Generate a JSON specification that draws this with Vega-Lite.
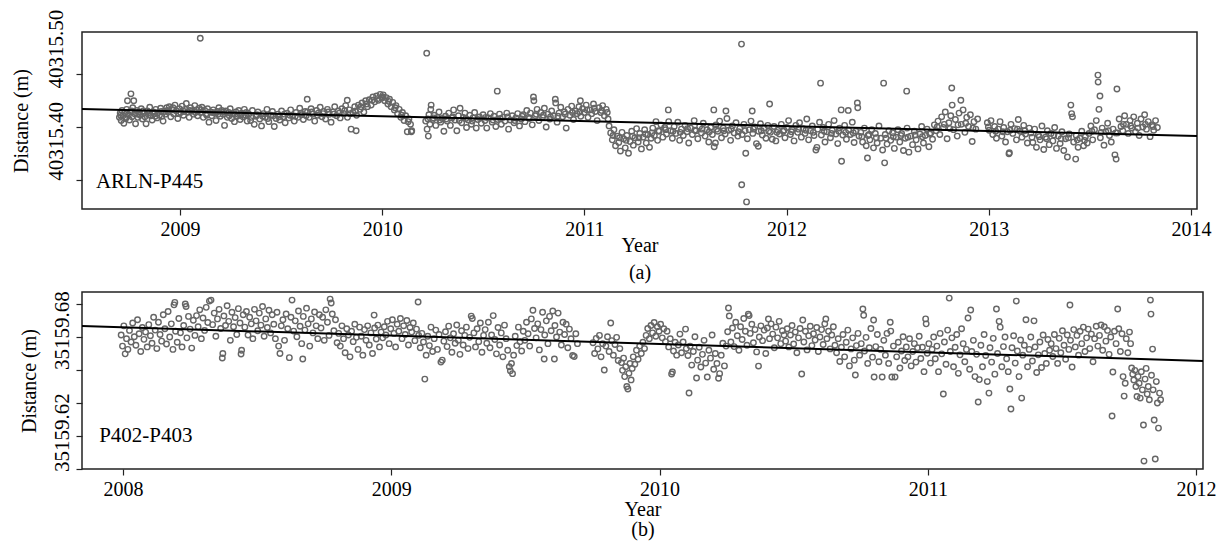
{
"$schema":"https://vega.github.io/schema/vega-lite/v6.json",
"background":"white",
"padding":{"left":10,"top":8,"right":4,"bottom":2},
"align":"none",
"spacing":6,
"config":{"font":"Liberation Serif","view":{"stroke":"#222","strokeWidth":1.5},
"axis":{"domain":false,"grid":false,"tickColor":"#222","tickWidth":1.2,"labelFont":"Liberation Serif","labelFontSize":20,"labelColor":"#000","titleFont":"Liberation Serif","titleFontSize":20,"titleFontWeight":"normal","titleColor":"#000","labelOverlap":false,"labelFlush":false}},
"datasets":{
"a":[
{"t":2008.700,"d":40315.418},{"t":2008.704,"d":40315.426},{"t":2008.709,"d":40315.412},{"t":2008.713,"d":40315.431},{"t":2008.718,"d":40315.421},{"t":2008.722,"d":40315.407},{"t":2008.727,"d":40315.427},{"t":2008.731,"d":40315.416},{"t":2008.736,"d":40315.433},{"t":2008.740,"d":40315.449},{"t":2008.745,"d":40315.423},{"t":2008.750,"d":40315.413},{"t":2008.754,"d":40315.429},{"t":2008.757,"d":40315.462},{"t":2008.762,"d":40315.419},{"t":2008.766,"d":40315.436},{"t":2008.771,"d":40315.449},{"t":2008.775,"d":40315.425},{"t":2008.780,"d":40315.406},{"t":2008.786,"d":40315.431},{"t":2008.791,"d":40315.418},{"t":2008.797,"d":40315.428},{"t":2008.803,"d":40315.422},{"t":2008.808,"d":40315.434},{"t":2008.814,"d":40315.415},{"t":2008.820,"d":40315.426},{"t":2008.826,"d":40315.419},{"t":2008.832,"d":40315.406},{"t":2008.838,"d":40315.430},{"t":2008.844,"d":40315.423},{"t":2008.850,"d":40315.437},{"t":2008.856,"d":40315.421},{"t":2008.862,"d":40315.413},{"t":2008.868,"d":40315.428},{"t":2008.874,"d":40315.425},{"t":2008.880,"d":40315.433},{"t":2008.886,"d":40315.417},{"t":2008.892,"d":40315.427},{"t":2008.898,"d":40315.422},{"t":2008.904,"d":40315.435},{"t":2008.910,"d":40315.420},{"t":2008.916,"d":40315.411},{"t":2008.922,"d":40315.429},{"t":2008.928,"d":40315.424},{"t":2008.934,"d":40315.436},
{"t":2008.940,"d":40315.428},{"t":2008.947,"d":40315.438},{"t":2008.954,"d":40315.419},{"t":2008.961,"d":40315.432},{"t":2008.968,"d":40315.425},{"t":2008.975,"d":40315.441},{"t":2008.982,"d":40315.430},{"t":2008.989,"d":40315.416},{"t":2008.996,"d":40315.434},{"t":2009.003,"d":40315.427},{"t":2009.010,"d":40315.439},{"t":2009.017,"d":40315.422},{"t":2009.024,"d":40315.433},{"t":2009.031,"d":40315.444},{"t":2009.038,"d":40315.428},{"t":2009.045,"d":40315.418},{"t":2009.052,"d":40315.436},{"t":2009.059,"d":40315.430},{"t":2009.066,"d":40315.424},{"t":2009.073,"d":40315.440},{"t":2009.080,"d":40315.432},{"t":2009.087,"d":40315.421},{"t":2009.094,"d":40315.435},{"t":2009.100,"d":40315.566},{"t":2009.101,"d":40315.427},{"t":2009.108,"d":40315.437},{"t":2009.115,"d":40315.418},{"t":2009.122,"d":40315.431},{"t":2009.129,"d":40315.425},{"t":2009.136,"d":40315.434},{"t":2009.143,"d":40315.409},{"t":2009.150,"d":40315.428},{"t":2009.157,"d":40315.421},{"t":2009.164,"d":40315.432},{"t":2009.171,"d":40315.426},{"t":2009.178,"d":40315.412},{"t":2009.185,"d":40315.429},{"t":2009.192,"d":40315.436},{"t":2009.199,"d":40315.420},{"t":2009.206,"d":40315.431},{"t":2009.213,"d":40315.424},{"t":2009.220,"d":40315.403},{"t":2009.227,"d":40315.430},{"t":2009.234,"d":40315.418},{"t":2009.241,"d":40315.427},{"t":2009.248,"d":40315.434},{"t":2009.255,"d":40315.416},{"t":2009.262,"d":40315.425},{"t":2009.269,"d":40315.410},{"t":2009.276,"d":40315.428},{"t":2009.283,"d":40315.420},{"t":2009.290,"d":40315.431},{"t":2009.297,"d":40315.414},{"t":2009.304,"d":40315.426},{"t":2009.311,"d":40315.419},{"t":2009.318,"d":40315.433},{"t":2009.325,"d":40315.422},{"t":2009.332,"d":40315.411},
{"t":2009.340,"d":40315.424},{"t":2009.349,"d":40315.412},{"t":2009.358,"d":40315.431},{"t":2009.367,"d":40315.405},{"t":2009.376,"d":40315.420},{"t":2009.385,"d":40315.428},{"t":2009.394,"d":40315.415},{"t":2009.403,"d":40315.402},{"t":2009.412,"d":40315.425},{"t":2009.421,"d":40315.418},{"t":2009.430,"d":40315.433},{"t":2009.439,"d":40315.410},{"t":2009.448,"d":40315.422},{"t":2009.457,"d":40315.429},{"t":2009.466,"d":40315.401},{"t":2009.475,"d":40315.416},{"t":2009.484,"d":40315.424},{"t":2009.493,"d":40315.413},{"t":2009.502,"d":40315.430},{"t":2009.511,"d":40315.419},{"t":2009.520,"d":40315.408},{"t":2009.529,"d":40315.426},{"t":2009.538,"d":40315.417},{"t":2009.547,"d":40315.432},{"t":2009.556,"d":40315.421},{"t":2009.565,"d":40315.411},{"t":2009.574,"d":40315.427},{"t":2009.583,"d":40315.418},{"t":2009.592,"d":40315.435},{"t":2009.601,"d":40315.423},{"t":2009.610,"d":40315.414},{"t":2009.619,"d":40315.429},
{"t":2009.629,"d":40315.452},{"t":2009.630,"d":40315.428},{"t":2009.639,"d":40315.418},{"t":2009.648,"d":40315.434},{"t":2009.657,"d":40315.424},{"t":2009.666,"d":40315.411},{"t":2009.675,"d":40315.431},{"t":2009.684,"d":40315.426},{"t":2009.693,"d":40315.437},{"t":2009.702,"d":40315.419},{"t":2009.711,"d":40315.429},{"t":2009.720,"d":40315.415},{"t":2009.729,"d":40315.433},{"t":2009.738,"d":40315.424},{"t":2009.747,"d":40315.409},{"t":2009.756,"d":40315.428},{"t":2009.765,"d":40315.438},{"t":2009.774,"d":40315.421},{"t":2009.783,"d":40315.430},{"t":2009.792,"d":40315.417},{"t":2009.801,"d":40315.434},{"t":2009.810,"d":40315.425},{"t":2009.819,"d":40315.440},{"t":2009.827,"d":40315.450},{"t":2009.828,"d":40315.418},{"t":2009.837,"d":40315.432},{"t":2009.846,"d":40315.396},{"t":2009.855,"d":40315.427},{"t":2009.864,"d":40315.438},{"t":2009.871,"d":40315.393},{"t":2009.873,"d":40315.422},{"t":2009.882,"d":40315.441},{"t":2009.891,"d":40315.433},{"t":2009.900,"d":40315.445},{"t":2009.909,"d":40315.428},{"t":2009.918,"d":40315.449},{"t":2009.927,"d":40315.438},
{"t":2009.936,"d":40315.451},{"t":2009.945,"d":40315.441},{"t":2009.954,"d":40315.456},{"t":2009.963,"d":40315.447},{"t":2009.972,"d":40315.458},{"t":2009.981,"d":40315.450},{"t":2009.990,"d":40315.461},{"t":2009.999,"d":40315.454},{"t":2010.005,"d":40315.460},{"t":2010.012,"d":40315.449},{"t":2010.020,"d":40315.455},{"t":2010.028,"d":40315.443},{"t":2010.036,"d":40315.452},{"t":2010.044,"d":40315.438},{"t":2010.052,"d":40315.446},{"t":2010.060,"d":40315.432},{"t":2010.068,"d":40315.440},{"t":2010.076,"d":40315.425},{"t":2010.084,"d":40315.433},{"t":2010.092,"d":40315.418},{"t":2010.100,"d":40315.427},{"t":2010.108,"d":40315.412},{"t":2010.116,"d":40315.421},{"t":2010.124,"d":40315.391},{"t":2010.132,"d":40315.415},{"t":2010.140,"d":40315.405},{"t":2010.144,"d":40315.391},{"t":2010.146,"d":40315.393},
{"t":2010.215,"d":40315.411},{"t":2010.220,"d":40315.538},{"t":2010.222,"d":40315.396},{"t":2010.228,"d":40315.383},{"t":2010.231,"d":40315.423},{"t":2010.236,"d":40315.405},{"t":2010.240,"d":40315.433},{"t":2010.242,"d":40315.441},{"t":2010.249,"d":40315.414},{"t":2010.257,"d":40315.422},{"t":2010.265,"d":40315.403},{"t":2010.273,"d":40315.418},{"t":2010.281,"d":40315.428},{"t":2010.289,"d":40315.409},{"t":2010.297,"d":40315.416},{"t":2010.305,"d":40315.392},{"t":2010.313,"d":40315.420},{"t":2010.321,"d":40315.411},{"t":2010.329,"d":40315.426},{"t":2010.337,"d":40315.403},{"t":2010.345,"d":40315.417},{"t":2010.353,"d":40315.432},{"t":2010.361,"d":40315.413},{"t":2010.369,"d":40315.393},{"t":2010.377,"d":40315.421},{"t":2010.385,"d":40315.435},{"t":2010.393,"d":40315.408},{"t":2010.401,"d":40315.418},{"t":2010.409,"d":40315.426},{"t":2010.417,"d":40315.399},{"t":2010.425,"d":40315.413},{"t":2010.433,"d":40315.422},{"t":2010.441,"d":40315.405},{"t":2010.449,"d":40315.417},{"t":2010.457,"d":40315.427},{"t":2010.465,"d":40315.398},{"t":2010.473,"d":40315.414},
{"t":2010.481,"d":40315.419},{"t":2010.490,"d":40315.407},{"t":2010.499,"d":40315.423},{"t":2010.508,"d":40315.412},{"t":2010.517,"d":40315.398},{"t":2010.526,"d":40315.417},{"t":2010.535,"d":40315.425},{"t":2010.544,"d":40315.409},{"t":2010.553,"d":40315.420},{"t":2010.562,"d":40315.401},{"t":2010.569,"d":40315.467},{"t":2010.571,"d":40315.414},{"t":2010.580,"d":40315.424},{"t":2010.589,"d":40315.405},{"t":2010.598,"d":40315.418},{"t":2010.607,"d":40315.411},{"t":2010.616,"d":40315.426},{"t":2010.625,"d":40315.396},{"t":2010.634,"d":40315.413},{"t":2010.643,"d":40315.421},{"t":2010.652,"d":40315.408},{"t":2010.661,"d":40315.417},{"t":2010.670,"d":40315.425},{"t":2010.679,"d":40315.402},{"t":2010.688,"d":40315.415},
{"t":2010.697,"d":40315.423},{"t":2010.706,"d":40315.410},{"t":2010.715,"d":40315.431},{"t":2010.724,"d":40315.418},{"t":2010.733,"d":40315.426},{"t":2010.742,"d":40315.404},{"t":2010.748,"d":40315.456},{"t":2010.750,"d":40315.449},{"t":2010.757,"d":40315.421},{"t":2010.766,"d":40315.433},{"t":2010.775,"d":40315.412},{"t":2010.784,"d":40315.427},{"t":2010.793,"d":40315.418},{"t":2010.802,"d":40315.435},{"t":2010.811,"d":40315.400},{"t":2010.820,"d":40315.424},{"t":2010.829,"d":40315.415},{"t":2010.838,"d":40315.430},{"t":2010.847,"d":40315.421},{"t":2010.856,"d":40315.452},{"t":2010.858,"d":40315.445},{"t":2010.865,"d":40315.409},{"t":2010.874,"d":40315.426},{"t":2010.883,"d":40315.437},{"t":2010.892,"d":40315.419},{"t":2010.901,"d":40315.428},{"t":2010.910,"d":40315.398},{"t":2010.919,"d":40315.433},{"t":2010.928,"d":40315.422},{"t":2010.937,"d":40315.439},{"t":2010.946,"d":40315.414},{"t":2010.955,"d":40315.430},
{"t":2010.964,"d":40315.425},{"t":2010.973,"d":40315.438},{"t":2010.980,"d":40315.449},{"t":2010.982,"d":40315.420},{"t":2010.991,"d":40315.434},{"t":2011.000,"d":40315.427},{"t":2011.009,"d":40315.441},{"t":2011.018,"d":40315.418},{"t":2011.027,"d":40315.432},{"t":2011.036,"d":40315.425},{"t":2011.045,"d":40315.443},{"t":2011.054,"d":40315.429},{"t":2011.063,"d":40315.412},{"t":2011.072,"d":40315.436},{"t":2011.081,"d":40315.427},{"t":2011.090,"d":40315.440},{"t":2011.099,"d":40315.421},{"t":2011.108,"d":40315.433},{"t":2011.117,"d":40315.415},
{"t":2011.122,"d":40315.402},{"t":2011.130,"d":40315.389},{"t":2011.138,"d":40315.376},{"t":2011.146,"d":40315.395},{"t":2011.154,"d":40315.365},{"t":2011.162,"d":40315.383},{"t":2011.170,"d":40315.371},{"t":2011.178,"d":40315.355},{"t":2011.186,"d":40315.390},{"t":2011.194,"d":40315.378},{"t":2011.202,"d":40315.361},{"t":2011.210,"d":40315.384},{"t":2011.218,"d":40315.351},{"t":2011.226,"d":40315.373},{"t":2011.234,"d":40315.392},{"t":2011.242,"d":40315.366},{"t":2011.250,"d":40315.380},{"t":2011.258,"d":40315.397},{"t":2011.266,"d":40315.372},{"t":2011.274,"d":40315.388},{"t":2011.282,"d":40315.359},{"t":2011.290,"d":40315.381},{"t":2011.298,"d":40315.395},{"t":2011.306,"d":40315.370},{"t":2011.314,"d":40315.386},{"t":2011.322,"d":40315.362},{"t":2011.330,"d":40315.379},{"t":2011.338,"d":40315.398},{"t":2011.346,"d":40315.384},{"t":2011.354,"d":40315.410},{"t":2011.362,"d":40315.375},
{"t":2011.370,"d":40315.392},{"t":2011.379,"d":40315.404},{"t":2011.388,"d":40315.381},{"t":2011.397,"d":40315.399},{"t":2011.406,"d":40315.387},{"t":2011.415,"d":40315.432},{"t":2011.417,"d":40315.410},{"t":2011.426,"d":40315.393},{"t":2011.435,"d":40315.379},{"t":2011.444,"d":40315.401},{"t":2011.453,"d":40315.388},{"t":2011.462,"d":40315.409},{"t":2011.471,"d":40315.375},{"t":2011.480,"d":40315.396},{"t":2011.489,"d":40315.384},{"t":2011.498,"d":40315.403},{"t":2011.507,"d":40315.391},{"t":2011.516,"d":40315.370},{"t":2011.525,"d":40315.398},{"t":2011.534,"d":40315.386},{"t":2011.543,"d":40315.412},{"t":2011.552,"d":40315.393},{"t":2011.561,"d":40315.378},{"t":2011.570,"d":40315.401},{"t":2011.579,"d":40315.389},{"t":2011.588,"d":40315.407},{"t":2011.597,"d":40315.383},{"t":2011.606,"d":40315.395},{"t":2011.615,"d":40315.372},{"t":2011.624,"d":40315.399},{"t":2011.633,"d":40315.386},{"t":2011.640,"d":40315.432},{"t":2011.642,"d":40315.363},{"t":2011.648,"d":40315.370},{"t":2011.651,"d":40315.404},{"t":2011.660,"d":40315.392},{"t":2011.669,"d":40315.411},{"t":2011.678,"d":40315.380},{"t":2011.687,"d":40315.398},{"t":2011.696,"d":40315.387},{"t":2011.700,"d":40315.430},{"t":2011.705,"d":40315.416},{"t":2011.714,"d":40315.394},{"t":2011.723,"d":40315.375},{"t":2011.732,"d":40315.402},{"t":2011.741,"d":40315.389},{"t":2011.750,"d":40315.408},{"t":2011.759,"d":40315.383},{"t":2011.768,"d":40315.397},{"t":2011.777,"d":40315.555},{"t":2011.778,"d":40315.292},{"t":2011.780,"d":40315.386},{"t":2011.789,"d":40315.405},{"t":2011.798,"d":40315.351},{"t":2011.802,"d":40315.260},{"t":2011.806,"d":40315.378},{"t":2011.815,"d":40315.395},{"t":2011.824,"d":40315.411},{"t":2011.830,"d":40315.430},{"t":2011.833,"d":40315.388},{"t":2011.842,"d":40315.400},{"t":2011.851,"d":40315.369},{"t":2011.860,"d":40315.364},{"t":2011.862,"d":40315.392},{"t":2011.871,"d":40315.406},{"t":2011.880,"d":40315.385},{"t":2011.889,"d":40315.398},{"t":2011.898,"d":40315.379},{"t":2011.907,"d":40315.403},{"t":2011.916,"d":40315.443},{"t":2011.920,"d":40315.390},{"t":2011.929,"d":40315.377},{"t":2011.938,"d":40315.401},{"t":2011.947,"d":40315.374},{"t":2011.956,"d":40315.394},
{"t":2011.965,"d":40315.387},{"t":2011.974,"d":40315.405},{"t":2011.983,"d":40315.392},{"t":2011.992,"d":40315.380},{"t":2012.001,"d":40315.399},{"t":2012.010,"d":40315.412},{"t":2012.019,"d":40315.386},{"t":2012.028,"d":40315.395},{"t":2012.037,"d":40315.374},{"t":2012.046,"d":40315.403},{"t":2012.055,"d":40315.390},{"t":2012.064,"d":40315.408},{"t":2012.073,"d":40315.381},{"t":2012.082,"d":40315.397},{"t":2012.091,"d":40315.388},{"t":2012.100,"d":40315.415},{"t":2012.109,"d":40315.376},{"t":2012.118,"d":40315.393},{"t":2012.127,"d":40315.402},{"t":2012.136,"d":40315.384},{"t":2012.145,"d":40315.357},{"t":2012.150,"d":40315.362},{"t":2012.154,"d":40315.396},{"t":2012.163,"d":40315.409},{"t":2012.168,"d":40315.482},{"t":2012.172,"d":40315.385},{"t":2012.181,"d":40315.399},{"t":2012.190,"d":40315.372},{"t":2012.199,"d":40315.391},{"t":2012.208,"d":40315.405},{"t":2012.217,"d":40315.380},{"t":2012.226,"d":40315.394},{"t":2012.235,"d":40315.412},{"t":2012.244,"d":40315.387},{"t":2012.253,"d":40315.369},{"t":2012.262,"d":40315.398},{"t":2012.270,"d":40315.432},{"t":2012.272,"d":40315.336},{"t":2012.278,"d":40315.385},{"t":2012.287,"d":40315.403},{"t":2012.296,"d":40315.377},{"t":2012.305,"d":40315.431},{"t":2012.307,"d":40315.394},{"t":2012.316,"d":40315.386},{"t":2012.325,"d":40315.409},{"t":2012.334,"d":40315.371},{"t":2012.343,"d":40315.392},{"t":2012.350,"d":40315.445},{"t":2012.352,"d":40315.436},{"t":2012.358,"d":40315.383},
{"t":2012.367,"d":40315.390},{"t":2012.376,"d":40315.372},{"t":2012.385,"d":40315.398},{"t":2012.394,"d":40315.365},{"t":2012.400,"d":40315.342},{"t":2012.403,"d":40315.384},{"t":2012.412,"d":40315.376},{"t":2012.421,"d":40315.395},{"t":2012.430,"d":40315.361},{"t":2012.439,"d":40315.388},{"t":2012.448,"d":40315.370},{"t":2012.457,"d":40315.402},{"t":2012.466,"d":40315.379},{"t":2012.475,"d":40315.357},{"t":2012.480,"d":40315.482},{"t":2012.485,"d":40315.333},{"t":2012.488,"d":40315.386},{"t":2012.497,"d":40315.368},{"t":2012.506,"d":40315.393},{"t":2012.515,"d":40315.375},{"t":2012.524,"d":40315.389},{"t":2012.533,"d":40315.360},{"t":2012.542,"d":40315.381},
{"t":2012.551,"d":40315.395},{"t":2012.560,"d":40315.372},{"t":2012.569,"d":40315.388},{"t":2012.578,"d":40315.356},{"t":2012.587,"d":40315.379},{"t":2012.594,"d":40315.467},{"t":2012.596,"d":40315.398},{"t":2012.605,"d":40315.353},{"t":2012.614,"d":40315.383},{"t":2012.623,"d":40315.367},{"t":2012.632,"d":40315.392},{"t":2012.641,"d":40315.376},{"t":2012.650,"d":40315.359},{"t":2012.659,"d":40315.387},{"t":2012.668,"d":40315.401},{"t":2012.677,"d":40315.370},{"t":2012.686,"d":40315.384},{"t":2012.695,"d":40315.396},{"t":2012.704,"d":40315.363},{"t":2012.713,"d":40315.389},{"t":2012.722,"d":40315.377},{"t":2012.731,"d":40315.404},
{"t":2012.740,"d":40315.393},{"t":2012.749,"d":40315.411},{"t":2012.758,"d":40315.386},{"t":2012.767,"d":40315.419},{"t":2012.776,"d":40315.399},{"t":2012.785,"d":40315.428},{"t":2012.794,"d":40315.378},{"t":2012.803,"d":40315.408},{"t":2012.812,"d":40315.421},{"t":2012.817,"d":40315.473},{"t":2012.819,"d":40315.441},{"t":2012.826,"d":40315.395},{"t":2012.835,"d":40315.414},{"t":2012.844,"d":40315.383},{"t":2012.853,"d":40315.426},{"t":2012.862,"d":40315.450},{"t":2012.864,"d":40315.405},{"t":2012.873,"d":40315.432},{"t":2012.882,"d":40315.390},{"t":2012.891,"d":40315.418},{"t":2012.900,"d":40315.401},{"t":2012.909,"d":40315.423},{"t":2012.918,"d":40315.373},{"t":2012.927,"d":40315.410},{"t":2012.936,"d":40315.396},{"t":2012.945,"d":40315.415},
{"t":2012.993,"d":40315.408},{"t":2013.002,"d":40315.394},{"t":2013.011,"d":40315.412},{"t":2013.020,"d":40315.386},{"t":2013.029,"d":40315.401},{"t":2013.038,"d":40315.379},{"t":2013.047,"d":40315.396},{"t":2013.056,"d":40315.410},{"t":2013.065,"d":40315.383},{"t":2013.074,"d":40315.399},{"t":2013.083,"d":40315.372},{"t":2013.092,"d":40315.391},{"t":2013.100,"d":40315.350},{"t":2013.102,"d":40315.352},{"t":2013.110,"d":40315.405},{"t":2013.119,"d":40315.388},{"t":2013.128,"d":40315.397},{"t":2013.137,"d":40315.376},{"t":2013.146,"d":40315.414},{"t":2013.155,"d":40315.392},{"t":2013.164,"d":40315.381},{"t":2013.173,"d":40315.403},{"t":2013.182,"d":40315.387},{"t":2013.191,"d":40315.370},{"t":2013.200,"d":40315.398},
{"t":2013.209,"d":40315.389},{"t":2013.218,"d":40315.371},{"t":2013.227,"d":40315.396},{"t":2013.236,"d":40315.362},{"t":2013.245,"d":40315.385},{"t":2013.254,"d":40315.376},{"t":2013.263,"d":40315.402},{"t":2013.272,"d":40315.358},{"t":2013.281,"d":40315.381},{"t":2013.290,"d":40315.393},{"t":2013.299,"d":40315.367},{"t":2013.308,"d":40315.388},{"t":2013.317,"d":40315.374},{"t":2013.326,"d":40315.399},{"t":2013.335,"d":40315.360},{"t":2013.344,"d":40315.383},{"t":2013.353,"d":40315.369},{"t":2013.362,"d":40315.391},{"t":2013.371,"d":40315.356},{"t":2013.380,"d":40315.378},{"t":2013.389,"d":40315.344},{"t":2013.398,"d":40315.387},{"t":2013.406,"d":40315.441},{"t":2013.410,"d":40315.425},{"t":2013.414,"d":40315.419},{"t":2013.420,"d":40315.372},{"t":2013.430,"d":40315.340},{"t":2013.433,"d":40315.384},{"t":2013.442,"d":40315.362},{"t":2013.451,"d":40315.379},{"t":2013.460,"d":40315.392},{"t":2013.469,"d":40315.365},{"t":2013.478,"d":40315.382},{"t":2013.487,"d":40315.370},
{"t":2013.496,"d":40315.388},{"t":2013.505,"d":40315.402},{"t":2013.514,"d":40315.376},{"t":2013.523,"d":40315.395},{"t":2013.532,"d":40315.412},{"t":2013.540,"d":40315.497},{"t":2013.541,"d":40315.484},{"t":2013.545,"d":40315.433},{"t":2013.550,"d":40315.458},{"t":2013.552,"d":40315.380},{"t":2013.561,"d":40315.398},{"t":2013.570,"d":40315.366},{"t":2013.579,"d":40315.391},{"t":2013.588,"d":40315.407},{"t":2013.597,"d":40315.384},{"t":2013.606,"d":40315.372},{"t":2013.615,"d":40315.396},{"t":2013.624,"d":40315.348},{"t":2013.630,"d":40315.340},{"t":2013.634,"d":40315.471},{"t":2013.636,"d":40315.389},{"t":2013.645,"d":40315.415},{"t":2013.654,"d":40315.401},{"t":2013.663,"d":40315.393},{"t":2013.672,"d":40315.421},{"t":2013.681,"d":40315.405},{"t":2013.690,"d":40315.388},{"t":2013.699,"d":40315.412},{"t":2013.708,"d":40315.398},{"t":2013.717,"d":40315.419},{"t":2013.726,"d":40315.391},{"t":2013.735,"d":40315.407},{"t":2013.744,"d":40315.384},{"t":2013.753,"d":40315.415},{"t":2013.762,"d":40315.400},{"t":2013.771,"d":40315.423},{"t":2013.780,"d":40315.396},{"t":2013.789,"d":40315.410},{"t":2013.798,"d":40315.382},{"t":2013.807,"d":40315.404},{"t":2013.816,"d":40315.394},{"t":2013.825,"d":40315.412},{"t":2013.834,"d":40315.399},
{"t":2008.706,"d":40315.422},{"t":2008.734,"d":40315.418},{"t":2008.760,"d":40315.430},{"t":2008.790,"d":40315.424},{"t":2008.818,"d":40315.430},{"t":2008.848,"d":40315.427},{"t":2008.877,"d":40315.420},{"t":2008.907,"d":40315.429},{"t":2008.937,"d":40315.431},{"t":2008.965,"d":40315.436},{"t":2008.993,"d":40315.425},{"t":2009.020,"d":40315.429},{"t":2009.048,"d":40315.431},{"t":2009.076,"d":40315.427},{"t":2009.104,"d":40315.432},{"t":2009.132,"d":40315.422},{"t":2009.160,"d":40315.427},{"t":2009.188,"d":40315.424},{"t":2009.216,"d":40315.428},{"t":2009.244,"d":40315.421},{"t":2009.272,"d":40315.424},{"t":2009.300,"d":40315.423},{"t":2009.328,"d":40315.427},{"t":2009.353,"d":40315.418},{"t":2009.380,"d":40315.423},{"t":2009.408,"d":40315.420},{"t":2009.434,"d":40315.416},{"t":2009.462,"d":40315.421},{"t":2009.490,"d":40315.419},{"t":2009.516,"d":40315.424},{"t":2009.543,"d":40315.422},{"t":2009.570,"d":40315.420},{"t":2009.597,"d":40315.426},{"t":2009.624,"d":40315.421},{"t":2009.652,"d":40315.428},{"t":2009.680,"d":40315.422},{"t":2009.707,"d":40315.425},{"t":2009.734,"d":40315.428},{"t":2009.761,"d":40315.424},{"t":2009.788,"d":40315.426},{"t":2009.815,"d":40315.431},{"t":2009.842,"d":40315.425},{"t":2009.868,"d":40315.430},{"t":2009.895,"d":40315.438},{"t":2009.922,"d":40315.443},{"t":2009.950,"d":40315.450},{"t":2009.977,"d":40315.453},{"t":2010.003,"d":40315.456},{"t":2010.032,"d":40315.448},{"t":2010.064,"d":40315.436},{"t":2010.096,"d":40315.422},{"t":2010.128,"d":40315.410},{"t":2010.226,"d":40315.415},{"t":2010.253,"d":40315.417},{"t":2010.285,"d":40315.413},{"t":2010.317,"d":40315.415},{"t":2010.349,"d":40315.419},{"t":2010.381,"d":40315.412},{"t":2010.413,"d":40315.416},{"t":2010.445,"d":40315.411},{"t":2010.477,"d":40315.418},{"t":2010.512,"d":40315.418},{"t":2010.548,"d":40315.413},{"t":2010.584,"d":40315.416},{"t":2010.620,"d":40315.419},{"t":2010.656,"d":40315.412},{"t":2010.692,"d":40315.420},{"t":2010.728,"d":40315.416},{"t":2010.762,"d":40315.424},{"t":2010.797,"d":40315.422},{"t":2010.832,"d":40315.419},{"t":2010.869,"d":40315.420},{"t":2010.905,"d":40315.424},{"t":2010.941,"d":40315.427},{"t":2010.977,"d":40315.428},{"t":2011.013,"d":40315.432},{"t":2011.049,"d":40315.435},{"t":2011.085,"d":40315.431},{"t":2011.113,"d":40315.427},{"t":2011.142,"d":40315.384},{"t":2011.174,"d":40315.380},{"t":2011.206,"d":40315.375},{"t":2011.238,"d":40315.383},{"t":2011.270,"d":40315.380},{"t":2011.302,"d":40315.387},{"t":2011.334,"d":40315.389},{"t":2011.366,"d":40315.393},{"t":2011.402,"d":40315.395},{"t":2011.438,"d":40315.392},{"t":2011.474,"d":40315.390},{"t":2011.510,"d":40315.397},{"t":2011.546,"d":40315.394},{"t":2011.582,"d":40315.396},{"t":2011.618,"d":40315.391},{"t":2011.654,"d":40315.396},{"t":2011.690,"d":40315.393},{"t":2011.726,"d":40315.396},{"t":2011.762,"d":40315.391},{"t":2011.795,"d":40315.393},{"t":2011.836,"d":40315.396},{"t":2011.875,"d":40315.393},{"t":2011.912,"d":40315.392},{"t":2011.952,"d":40315.390},{"t":2011.988,"d":40315.394},{"t":2012.024,"d":40315.391},{"t":2012.060,"d":40315.396},{"t":2012.096,"d":40315.394},{"t":2012.132,"d":40315.390},{"t":2012.186,"d":40315.392},{"t":2012.222,"d":40315.388},{"t":2012.258,"d":40315.392},{"t":2012.292,"d":40315.390},{"t":2012.330,"d":40315.389},{"t":2012.372,"d":40315.382},{"t":2012.408,"d":40315.386},{"t":2012.444,"d":40315.380},{"t":2012.492,"d":40315.379},{"t":2012.528,"d":40315.382},{"t":2012.565,"d":40315.384},{"t":2012.600,"d":40315.381},{"t":2012.636,"d":40315.385},{"t":2012.672,"d":40315.382},{"t":2012.708,"d":40315.387},{"t":2012.745,"d":40315.400},{"t":2012.780,"d":40315.405},{"t":2012.808,"d":40315.397},{"t":2012.848,"d":40315.404},{"t":2012.886,"d":40315.407},{"t":2012.922,"d":40315.398},{"t":2012.998,"d":40315.400},{"t":2013.034,"d":40315.392},{"t":2013.070,"d":40315.391},{"t":2013.106,"d":40315.394},{"t":2013.142,"d":40315.396},{"t":2013.178,"d":40315.393},{"t":2013.214,"d":40315.381},{"t":2013.250,"d":40315.382},{"t":2013.286,"d":40315.378},{"t":2013.322,"d":40315.385},{"t":2013.358,"d":40315.378},{"t":2013.394,"d":40315.380},{"t":2013.438,"d":40315.376},{"t":2013.474,"d":40315.375},{"t":2013.510,"d":40315.392},{"t":2013.556,"d":40315.390},{"t":2013.592,"d":40315.393},{"t":2013.628,"d":40315.389},{"t":2013.666,"d":40315.405},{"t":2013.702,"d":40315.402},{"t":2013.738,"d":40315.398},{"t":2013.775,"d":40315.405},{"t":2013.812,"d":40315.401}
],
"b":[
{"t":2007.993,"d":35159.6812},{"t":2007.998,"d":35159.6745},{"t":2008.003,"d":35159.6868},{"t":2008.008,"d":35159.6698},{"t":2008.013,"d":35159.6790},{"t":2008.018,"d":35159.6725},{"t":2008.024,"d":35159.6840},{"t":2008.030,"d":35159.6770},{"t":2008.036,"d":35159.6885},{"t":2008.042,"d":35159.6802},{"t":2008.048,"d":35159.6750},{"t":2008.054,"d":35159.6905},{"t":2008.060,"d":35159.6820},{"t":2008.066,"d":35159.6712},{"t":2008.072,"d":35159.6858},{"t":2008.078,"d":35159.6786},{"t":2008.084,"d":35159.6830},{"t":2008.090,"d":35159.6740},{"t":2008.096,"d":35159.6875},{"t":2008.102,"d":35159.6808},{"t":2008.108,"d":35159.6762},{"t":2008.114,"d":35159.6920},{"t":2008.120,"d":35159.6842},{"t":2008.126,"d":35159.6730},{"t":2008.132,"d":35159.6890},{"t":2008.138,"d":35159.6815},{"t":2008.144,"d":35159.6775},{"t":2008.150,"d":35159.6935},
{"t":2008.156,"d":35159.6850},{"t":2008.162,"d":35159.6758},{"t":2008.168,"d":35159.6955},{"t":2008.174,"d":35159.6800},{"t":2008.180,"d":35159.6880},{"t":2008.186,"d":35159.6725},{"t":2008.190,"d":35159.6995},{"t":2008.193,"d":35159.7010},{"t":2008.196,"d":35159.6835},{"t":2008.202,"d":35159.6768},{"t":2008.208,"d":35159.6912},{"t":2008.214,"d":35159.6826},{"t":2008.220,"d":35159.6740},{"t":2008.226,"d":35159.6870},{"t":2008.232,"d":35159.7000},{"t":2008.235,"d":35159.6985},{"t":2008.238,"d":35159.6795},{"t":2008.244,"d":35159.6925},{"t":2008.250,"d":35159.6848},{"t":2008.256,"d":35159.6733},{"t":2008.262,"d":35159.6902},{"t":2008.268,"d":35159.6810},
{"t":2008.274,"d":35159.6930},{"t":2008.280,"d":35159.6862},{"t":2008.286,"d":35159.6965},{"t":2008.292,"d":35159.6790},{"t":2008.298,"d":35159.6915},{"t":2008.304,"d":35159.6840},{"t":2008.310,"d":35159.6980},{"t":2008.316,"d":35159.6888},{"t":2008.322,"d":35159.7018},{"t":2008.328,"d":35159.7024},{"t":2008.334,"d":35159.6875},{"t":2008.340,"d":35159.6945},{"t":2008.346,"d":35159.6805},{"t":2008.352,"d":35159.6910},{"t":2008.358,"d":35159.6968},{"t":2008.364,"d":35159.6852},{"t":2008.370,"d":35159.6673},{"t":2008.372,"d":35159.6700},{"t":2008.376,"d":35159.6928},{"t":2008.382,"d":35159.6870},{"t":2008.388,"d":35159.6990},{"t":2008.394,"d":35159.6895},{"t":2008.400,"d":35159.6780},{"t":2008.406,"d":35159.6950},{"t":2008.412,"d":35159.6862},{"t":2008.418,"d":35159.6918},{"t":2008.424,"d":35159.6815},{"t":2008.430,"d":35159.6972},{"t":2008.436,"d":35159.6885},{"t":2008.440,"d":35159.6697},{"t":2008.442,"d":35159.6720},{"t":2008.448,"d":35159.6935},
{"t":2008.454,"d":35159.6860},{"t":2008.460,"d":35159.6955},{"t":2008.466,"d":35159.6812},{"t":2008.472,"d":35159.6920},{"t":2008.478,"d":35159.6880},{"t":2008.484,"d":35159.6790},{"t":2008.490,"d":35159.6968},{"t":2008.496,"d":35159.6898},{"t":2008.502,"d":35159.6838},{"t":2008.508,"d":35159.6945},{"t":2008.514,"d":35159.6872},{"t":2008.520,"d":35159.6985},{"t":2008.526,"d":35159.6805},{"t":2008.532,"d":35159.6910},{"t":2008.538,"d":35159.6858},{"t":2008.544,"d":35159.6962},{"t":2008.550,"d":35159.6825},{"t":2008.556,"d":35159.6935},{"t":2008.562,"d":35159.6878},{"t":2008.568,"d":35159.6790},{"t":2008.574,"d":35159.6950},{"t":2008.580,"d":35159.6745},{"t":2008.585,"d":35159.6700},{"t":2008.590,"d":35159.6868},{"t":2008.596,"d":35159.6905},{"t":2008.602,"d":35159.6780},{"t":2008.608,"d":35159.6940},{"t":2008.614,"d":35159.6850},{"t":2008.620,"d":35159.6675},{"t":2008.626,"d":35159.6920},{"t":2008.630,"d":35159.7024},{"t":2008.636,"d":35159.6836},
{"t":2008.642,"d":35159.6898},{"t":2008.648,"d":35159.6802},{"t":2008.654,"d":35159.6958},{"t":2008.660,"d":35159.6865},{"t":2008.666,"d":35159.6760},{"t":2008.670,"d":35159.6667},{"t":2008.672,"d":35159.6925},{"t":2008.678,"d":35159.6842},{"t":2008.684,"d":35159.6975},{"t":2008.690,"d":35159.6880},{"t":2008.696,"d":35159.6745},{"t":2008.702,"d":35159.6910},{"t":2008.708,"d":35159.6825},{"t":2008.714,"d":35159.6952},{"t":2008.720,"d":35159.6868},{"t":2008.726,"d":35159.6790},{"t":2008.732,"d":35159.6935},{"t":2008.738,"d":35159.6855},{"t":2008.744,"d":35159.6920},{"t":2008.750,"d":35159.6780},{"t":2008.756,"d":35159.6965},{"t":2008.762,"d":35159.6890},{"t":2008.768,"d":35159.6810},{"t":2008.772,"d":35159.7030},{"t":2008.776,"d":35159.7006},{"t":2008.780,"d":35159.6940},{"t":2008.786,"d":35159.6838},{"t":2008.792,"d":35159.6905},{"t":2008.798,"d":35159.6765},
{"t":2008.804,"d":35159.6822},{"t":2008.810,"d":35159.6745},{"t":2008.816,"d":35159.6868},{"t":2008.822,"d":35159.6790},{"t":2008.828,"d":35159.6705},{"t":2008.834,"d":35159.6850},{"t":2008.840,"d":35159.6812},{"t":2008.846,"d":35159.6680},{"t":2008.852,"d":35159.6835},{"t":2008.858,"d":35159.6772},{"t":2008.864,"d":35159.6878},{"t":2008.870,"d":35159.6798},{"t":2008.876,"d":35159.6725},{"t":2008.882,"d":35159.6860},{"t":2008.888,"d":35159.6805},{"t":2008.894,"d":35159.6690},{"t":2008.900,"d":35159.6845},{"t":2008.906,"d":35159.6780},{"t":2008.912,"d":35159.6868},{"t":2008.918,"d":35159.6752},{"t":2008.924,"d":35159.6825},{"t":2008.930,"d":35159.6700},{"t":2008.936,"d":35159.6933},{"t":2008.938,"d":35159.6855},{"t":2008.944,"d":35159.6788},{"t":2008.950,"d":35159.6872},{"t":2008.956,"d":35159.6740},{"t":2008.962,"d":35159.6830},{"t":2008.968,"d":35159.6795},{"t":2008.974,"d":35159.6862},
{"t":2008.980,"d":35159.6812},{"t":2008.986,"d":35159.6895},{"t":2008.992,"d":35159.6760},{"t":2008.998,"d":35159.6850},{"t":2009.004,"d":35159.6905},{"t":2009.010,"d":35159.6822},{"t":2009.016,"d":35159.6740},{"t":2009.022,"d":35159.6878},{"t":2009.028,"d":35159.6835},{"t":2009.034,"d":35159.6912},{"t":2009.040,"d":35159.6790},{"t":2009.046,"d":35159.6868},{"t":2009.052,"d":35159.6815},{"t":2009.058,"d":35159.6900},{"t":2009.064,"d":35159.6752},{"t":2009.070,"d":35159.6858},{"t":2009.076,"d":35159.6830},{"t":2009.082,"d":35159.6885},{"t":2009.088,"d":35159.6778},{"t":2009.094,"d":35159.6848},{"t":2009.100,"d":35159.7012},{"t":2009.102,"d":35159.6810},
{"t":2009.108,"d":35159.6735},{"t":2009.114,"d":35159.6822},{"t":2009.120,"d":35159.6770},{"t":2009.125,"d":35159.6545},{"t":2009.130,"d":35159.6690},{"t":2009.136,"d":35159.6805},{"t":2009.142,"d":35159.6748},{"t":2009.148,"d":35159.6860},{"t":2009.154,"d":35159.6712},{"t":2009.160,"d":35159.6790},{"t":2009.166,"d":35159.6842},{"t":2009.172,"d":35159.6725},{"t":2009.178,"d":35159.6815},{"t":2009.185,"d":35159.6648},{"t":2009.190,"d":35159.6660},{"t":2009.196,"d":35159.6775},{"t":2009.202,"d":35159.6832},{"t":2009.208,"d":35159.6742},{"t":2009.214,"d":35159.6866},{"t":2009.220,"d":35159.6795},{"t":2009.226,"d":35159.6708},{"t":2009.232,"d":35159.6820},{"t":2009.238,"d":35159.6762},{"t":2009.244,"d":35159.6873},{"t":2009.250,"d":35159.6780},{"t":2009.256,"d":35159.6695},{"t":2009.262,"d":35159.6838},{"t":2009.268,"d":35159.6752},{"t":2009.274,"d":35159.6810},{"t":2009.280,"d":35159.6860},{"t":2009.286,"d":35159.6730},{"t":2009.292,"d":35159.6798},{"t":2009.298,"d":35159.6927},{"t":2009.302,"d":35159.6912},{"t":2009.308,"d":35159.6825},{"t":2009.314,"d":35159.6740},{"t":2009.320,"d":35159.6850},{"t":2009.326,"d":35159.6772},{"t":2009.332,"d":35159.6885},{"t":2009.338,"d":35159.6708},{"t":2009.344,"d":35159.6810},
{"t":2009.350,"d":35159.6845},{"t":2009.356,"d":35159.6762},{"t":2009.362,"d":35159.6890},{"t":2009.368,"d":35159.6735},{"t":2009.374,"d":35159.6812},{"t":2009.380,"d":35159.6930},{"t":2009.386,"d":35159.6785},{"t":2009.392,"d":35159.6698},{"t":2009.398,"d":35159.6858},{"t":2009.404,"d":35159.6752},{"t":2009.410,"d":35159.6825},{"t":2009.416,"d":35159.6680},{"t":2009.422,"d":35159.6872},{"t":2009.428,"d":35159.6790},{"t":2009.434,"d":35159.6720},{"t":2009.440,"d":35159.6620},{"t":2009.444,"d":35159.6595},{"t":2009.448,"d":35159.6640},{"t":2009.452,"d":35159.6578},{"t":2009.456,"d":35159.6690},{"t":2009.462,"d":35159.6805},{"t":2009.468,"d":35159.6748},{"t":2009.474,"d":35159.6860},{"t":2009.480,"d":35159.6772},{"t":2009.486,"d":35159.6715},
{"t":2009.492,"d":35159.6835},{"t":2009.498,"d":35159.6780},{"t":2009.504,"d":35159.6890},{"t":2009.510,"d":35159.6820},{"t":2009.516,"d":35159.6745},{"t":2009.522,"d":35159.6910},{"t":2009.528,"d":35159.6962},{"t":2009.534,"d":35159.6852},{"t":2009.540,"d":35159.6795},{"t":2009.546,"d":35159.6880},{"t":2009.552,"d":35159.6722},{"t":2009.558,"d":35159.6845},{"t":2009.564,"d":35159.6950},{"t":2009.570,"d":35159.6667},{"t":2009.572,"d":35159.6812},{"t":2009.578,"d":35159.6898},{"t":2009.584,"d":35159.6760},{"t":2009.590,"d":35159.6925},{"t":2009.596,"d":35159.6838},{"t":2009.602,"d":35159.6958},{"t":2009.608,"d":35159.6667},{"t":2009.610,"d":35159.6870},{"t":2009.616,"d":35159.6800},{"t":2009.622,"d":35159.6945},{"t":2009.628,"d":35159.6830},{"t":2009.634,"d":35159.6752},{"t":2009.640,"d":35159.6890},{"t":2009.646,"d":35159.6815},{"t":2009.652,"d":35159.6878},{"t":2009.658,"d":35159.6735},{"t":2009.664,"d":35159.6848},{"t":2009.670,"d":35159.6790},{"t":2009.676,"d":35159.6688},{"t":2009.682,"d":35159.6682},{"t":2009.688,"d":35159.6820},{"t":2009.694,"d":35159.6760},
{"t":2009.752,"d":35159.6765},{"t":2009.758,"d":35159.6700},{"t":2009.764,"d":35159.6792},{"t":2009.770,"d":35159.6728},{"t":2009.776,"d":35159.6810},{"t":2009.782,"d":35159.6680},{"t":2009.788,"d":35159.6760},{"t":2009.794,"d":35159.6600},{"t":2009.800,"d":35159.6745},{"t":2009.806,"d":35159.6802},{"t":2009.812,"d":35159.6712},{"t":2009.818,"d":35159.6885},{"t":2009.822,"d":35159.6778},{"t":2009.828,"d":35159.6690},{"t":2009.834,"d":35159.6755},{"t":2009.840,"d":35159.6798},{"t":2009.846,"d":35159.6658},{"t":2009.852,"d":35159.6730},
{"t":2009.858,"d":35159.6645},{"t":2009.862,"d":35159.6598},{"t":2009.866,"d":35159.6672},{"t":2009.870,"d":35159.6560},{"t":2009.874,"d":35159.6620},{"t":2009.878,"d":35159.6500},{"t":2009.882,"d":35159.6485},{"t":2009.886,"d":35159.6580},{"t":2009.890,"d":35159.6640},{"t":2009.894,"d":35159.6540},{"t":2009.898,"d":35159.6610},
{"t":2009.902,"d":35159.6680},{"t":2009.908,"d":35159.6635},{"t":2009.914,"d":35159.6720},{"t":2009.920,"d":35159.6665},{"t":2009.926,"d":35159.6745},{"t":2009.932,"d":35159.6700},{"t":2009.938,"d":35159.6768},{"t":2009.944,"d":35159.6730},
{"t":2009.950,"d":35159.6810},{"t":2009.956,"d":35159.6852},{"t":2009.962,"d":35159.6790},{"t":2009.968,"d":35159.6870},{"t":2009.974,"d":35159.6825},{"t":2009.980,"d":35159.6888},{"t":2009.986,"d":35159.6805},{"t":2009.992,"d":35159.6862},{"t":2009.998,"d":35159.6835},{"t":2010.004,"d":35159.6878},{"t":2010.010,"d":35159.6795},{"t":2010.016,"d":35159.6850},{"t":2010.022,"d":35159.6772},{"t":2010.028,"d":35159.6835},{"t":2010.034,"d":35159.6740},
{"t":2010.040,"d":35159.6790},{"t":2010.045,"d":35159.6576},{"t":2010.048,"d":35159.6588},{"t":2010.052,"d":35159.6715},{"t":2010.058,"d":35159.6768},{"t":2010.064,"d":35159.6690},{"t":2010.070,"d":35159.6752},{"t":2010.076,"d":35159.6818},{"t":2010.082,"d":35159.6705},{"t":2010.088,"d":35159.6770},{"t":2010.097,"d":35159.6848},{"t":2010.100,"d":35159.6730},
{"t":2010.106,"d":35159.6688},{"t":2010.110,"d":35159.6461},{"t":2010.114,"d":35159.6745},{"t":2010.120,"d":35159.6630},{"t":2010.126,"d":35159.6712},{"t":2010.132,"d":35159.6802},{"t":2010.138,"d":35159.6552},{"t":2010.142,"d":35159.6660},{"t":2010.148,"d":35159.6738},{"t":2010.154,"d":35159.6618},{"t":2010.160,"d":35159.6695},{"t":2010.166,"d":35159.6780},{"t":2010.172,"d":35159.6642},{"t":2010.178,"d":35159.6558},{"t":2010.184,"d":35159.6720},{"t":2010.190,"d":35159.6672},{"t":2010.196,"d":35159.6812},{"t":2010.202,"d":35159.6605},{"t":2010.208,"d":35159.6700},{"t":2010.214,"d":35159.6640},{"t":2010.220,"d":35159.6550},{"t":2010.224,"d":35159.6578},{"t":2010.230,"d":35159.6690},{"t":2010.236,"d":35159.6762},{"t":2010.242,"d":35159.6625},{"t":2010.248,"d":35159.6745},
{"t":2010.254,"d":35159.6832},{"t":2010.257,"d":35159.6976},{"t":2010.260,"d":35159.6928},{"t":2010.266,"d":35159.6770},{"t":2010.272,"d":35159.6855},{"t":2010.278,"d":35159.6742},{"t":2010.284,"d":35159.6890},{"t":2010.290,"d":35159.6808},{"t":2010.296,"d":35159.6720},{"t":2010.302,"d":35159.6862},{"t":2010.308,"d":35159.6785},{"t":2010.314,"d":35159.6912},{"t":2010.320,"d":35159.6835},{"t":2010.326,"d":35159.6750},{"t":2010.331,"d":35159.6939},{"t":2010.334,"d":35159.6930},{"t":2010.338,"d":35159.6822},{"t":2010.344,"d":35159.6878},{"t":2010.350,"d":35159.6765},{"t":2010.356,"d":35159.6845},{"t":2010.362,"d":35159.6710},{"t":2010.369,"d":35159.6624},{"t":2010.372,"d":35159.6800},{"t":2010.378,"d":35159.6868},{"t":2010.384,"d":35159.6778},{"t":2010.390,"d":35159.6842},{"t":2010.396,"d":35159.6700},{"t":2010.402,"d":35159.6855},{"t":2010.406,"d":35159.6909},{"t":2010.410,"d":35159.6790},{"t":2010.416,"d":35159.6880},{"t":2010.422,"d":35159.6818},{"t":2010.428,"d":35159.6735},{"t":2010.434,"d":35159.6860},{"t":2010.440,"d":35159.6795},{"t":2010.446,"d":35159.6895},{"t":2010.452,"d":35159.6760},{"t":2010.458,"d":35159.6838},{"t":2010.464,"d":35159.6812},
{"t":2010.470,"d":35159.6775},{"t":2010.476,"d":35159.6850},{"t":2010.482,"d":35159.6740},{"t":2010.488,"d":35159.6812},{"t":2010.494,"d":35159.6870},{"t":2010.500,"d":35159.6758},{"t":2010.506,"d":35159.6830},{"t":2010.512,"d":35159.6705},{"t":2010.518,"d":35159.6795},{"t":2010.524,"d":35159.6852},{"t":2010.530,"d":35159.6576},{"t":2010.534,"d":35159.6903},{"t":2010.538,"d":35159.6770},{"t":2010.544,"d":35159.6835},{"t":2010.550,"d":35159.6722},{"t":2010.556,"d":35159.6808},{"t":2010.562,"d":35159.6865},{"t":2010.568,"d":35159.6748},{"t":2010.574,"d":35159.6820},{"t":2010.580,"d":35159.6782},{"t":2010.586,"d":35159.6858},{"t":2010.592,"d":35159.6712},{"t":2010.598,"d":35159.6800},{"t":2010.604,"d":35159.6845},{"t":2010.610,"d":35159.6755},{"t":2010.616,"d":35159.6880},{"t":2010.620,"d":35159.6909},{"t":2010.624,"d":35159.6790},{"t":2010.630,"d":35159.6835},{"t":2010.636,"d":35159.6728},{"t":2010.642,"d":35159.6812},{"t":2010.648,"d":35159.6862},{"t":2010.654,"d":35159.6750},
{"t":2010.660,"d":35159.6705},{"t":2010.666,"d":35159.6790},{"t":2010.672,"d":35159.6652},{"t":2010.678,"d":35159.6738},{"t":2010.684,"d":35159.6815},{"t":2010.690,"d":35159.6680},{"t":2010.696,"d":35159.6768},{"t":2010.702,"d":35159.6842},{"t":2010.708,"d":35159.6625},{"t":2010.714,"d":35159.6728},{"t":2010.720,"d":35159.6795},{"t":2010.726,"d":35159.6660},{"t":2010.730,"d":35159.6570},{"t":2010.734,"d":35159.6748},{"t":2010.740,"d":35159.6822},{"t":2010.746,"d":35159.6690},{"t":2010.752,"d":35159.6760},{"t":2010.758,"d":35159.6970},{"t":2010.761,"d":35159.6932},{"t":2010.764,"d":35159.6715},{"t":2010.770,"d":35159.6798},{"t":2010.776,"d":35159.6640},{"t":2010.782,"d":35159.6735},{"t":2010.788,"d":35159.6852},{"t":2010.794,"d":35159.6678},{"t":2010.798,"d":35159.6903},{"t":2010.800,"d":35159.6558},{"t":2010.806,"d":35159.6742},{"t":2010.812,"d":35159.6815},{"t":2010.818,"d":35159.6650},
{"t":2010.824,"d":35159.6725},{"t":2010.830,"d":35159.6558},{"t":2010.836,"d":35159.6780},{"t":2010.842,"d":35159.6690},{"t":2010.848,"d":35159.6822},{"t":2010.854,"d":35159.6640},{"t":2010.860,"d":35159.6890},{"t":2010.862,"d":35159.6836},{"t":2010.866,"d":35159.6558},{"t":2010.872,"d":35159.6745},{"t":2010.878,"d":35159.6558},{"t":2010.884,"d":35159.6680},{"t":2010.890,"d":35159.6768},{"t":2010.896,"d":35159.6612},{"t":2010.902,"d":35159.6715},{"t":2010.908,"d":35159.6802},{"t":2010.914,"d":35159.6658},{"t":2010.920,"d":35159.6740},{"t":2010.926,"d":35159.6680},{"t":2010.932,"d":35159.6790},{"t":2010.938,"d":35159.6625},{"t":2010.944,"d":35159.6712},{"t":2010.950,"d":35159.6760},{"t":2010.956,"d":35159.6648},{"t":2010.962,"d":35159.6735},{"t":2010.968,"d":35159.6805},{"t":2010.974,"d":35159.6670},{"t":2010.980,"d":35159.6738},{"t":2010.986,"d":35159.6590},{"t":2010.992,"d":35159.6910},{"t":2010.994,"d":35159.6880},{"t":2010.998,"d":35159.6702},
{"t":2011.004,"d":35159.6760},{"t":2011.010,"d":35159.6642},{"t":2011.016,"d":35159.6725},{"t":2011.022,"d":35159.6800},{"t":2011.028,"d":35159.6668},{"t":2011.034,"d":35159.6745},{"t":2011.040,"d":35159.6590},{"t":2011.046,"d":35159.6822},{"t":2011.052,"d":35159.6698},{"t":2011.058,"d":35159.6455},{"t":2011.062,"d":35159.6770},{"t":2011.068,"d":35159.6635},{"t":2011.074,"d":35159.6842},{"t":2011.080,"d":35159.7036},{"t":2011.084,"d":35159.6712},{"t":2011.090,"d":35159.6795},{"t":2011.096,"d":35159.6620},{"t":2011.102,"d":35159.6738},{"t":2011.108,"d":35159.6815},{"t":2011.114,"d":35159.6580},{"t":2011.120,"d":35159.6692},{"t":2011.126,"d":35159.6850},{"t":2011.132,"d":35159.6760},{"t":2011.138,"d":35159.6650},
{"t":2011.144,"d":35159.6725},{"t":2011.150,"d":35159.6915},{"t":2011.156,"d":35159.6605},{"t":2011.160,"d":35159.6964},{"t":2011.164,"d":35159.6712},{"t":2011.170,"d":35159.6780},{"t":2011.176,"d":35159.6560},{"t":2011.182,"d":35159.6695},{"t":2011.188,"d":35159.6406},{"t":2011.192,"d":35159.6542},{"t":2011.198,"d":35159.6750},{"t":2011.204,"d":35159.6620},{"t":2011.210,"d":35159.6815},{"t":2011.216,"d":35159.6688},{"t":2011.222,"d":35159.6530},{"t":2011.228,"d":35159.6460},{"t":2011.232,"d":35159.6735},{"t":2011.238,"d":35159.6648},{"t":2011.244,"d":35159.6792},{"t":2011.250,"d":35159.6575},{"t":2011.256,"d":35159.6970},{"t":2011.260,"d":35159.6700},{"t":2011.266,"d":35159.6895},{"t":2011.270,"d":35159.6860},{"t":2011.276,"d":35159.6620},{"t":2011.282,"d":35159.6742},{"t":2011.288,"d":35159.6800},
{"t":2011.294,"d":35159.6668},{"t":2011.300,"d":35159.6590},{"t":2011.306,"d":35159.6485},{"t":2011.310,"d":35159.6364},{"t":2011.314,"d":35159.6735},{"t":2011.320,"d":35159.6808},{"t":2011.326,"d":35159.6642},{"t":2011.330,"d":35159.7018},{"t":2011.334,"d":35159.6715},{"t":2011.340,"d":35159.6560},{"t":2011.346,"d":35159.6782},{"t":2011.350,"d":35159.6430},{"t":2011.354,"d":35159.6690},{"t":2011.360,"d":35159.6750},{"t":2011.366,"d":35159.6905},{"t":2011.372,"d":35159.6620},{"t":2011.378,"d":35159.6725},{"t":2011.384,"d":35159.6800},{"t":2011.390,"d":35159.6655},{"t":2011.396,"d":35159.6898},{"t":2011.400,"d":35159.6740},{"t":2011.406,"d":35159.6585},{"t":2011.412,"d":35159.6692},{"t":2011.418,"d":35159.6770},{"t":2011.424,"d":35159.6615},{"t":2011.430,"d":35159.6812},{"t":2011.436,"d":35159.6700},{"t":2011.442,"d":35159.6640},{"t":2011.448,"d":35159.6785},{"t":2011.454,"d":35159.6720},
{"t":2011.460,"d":35159.6760},{"t":2011.466,"d":35159.6682},{"t":2011.472,"d":35159.6815},{"t":2011.478,"d":35159.6730},{"t":2011.484,"d":35159.6640},{"t":2011.490,"d":35159.6792},{"t":2011.496,"d":35159.6705},{"t":2011.502,"d":35159.6838},{"t":2011.508,"d":35159.6750},{"t":2011.514,"d":35159.6665},{"t":2011.520,"d":35159.6812},{"t":2011.526,"d":35159.6725},{"t":2011.530,"d":35159.6994},{"t":2011.532,"d":35159.6780},{"t":2011.538,"d":35159.6618},{"t":2011.544,"d":35159.6845},{"t":2011.550,"d":35159.6740},{"t":2011.556,"d":35159.6810},{"t":2011.562,"d":35159.6690},{"t":2011.568,"d":35159.6835},{"t":2011.574,"d":35159.6760},{"t":2011.580,"d":35159.6860},{"t":2011.586,"d":35159.6712},{"t":2011.592,"d":35159.6795},{"t":2011.598,"d":35159.6848},{"t":2011.604,"d":35159.6730},{"t":2011.610,"d":35159.6818},{"t":2011.616,"d":35159.6650},{"t":2011.622,"d":35159.6790},{"t":2011.628,"d":35159.6865},{"t":2011.634,"d":35159.6745},
{"t":2011.640,"d":35159.6810},{"t":2011.646,"d":35159.6873},{"t":2011.652,"d":35159.6720},{"t":2011.658,"d":35159.6862},{"t":2011.664,"d":35159.6775},{"t":2011.670,"d":35159.6840},{"t":2011.676,"d":35159.6695},{"t":2011.682,"d":35159.6800},{"t":2011.687,"d":35159.6321},{"t":2011.690,"d":35159.6588},{"t":2011.696,"d":35159.6835},{"t":2011.702,"d":35159.6760},{"t":2011.708,"d":35159.6970},{"t":2011.712,"d":35159.6850},{"t":2011.718,"d":35159.6712},{"t":2011.724,"d":35159.6820},{"t":2011.728,"d":35159.6560},{"t":2011.732,"d":35159.6442},{"t":2011.736,"d":35159.6520},{"t":2011.740,"d":35159.6790},{"t":2011.746,"d":35159.6705},{"t":2011.752,"d":35159.6830},
{"t":2011.756,"d":35159.6760},{"t":2011.760,"d":35159.6612},{"t":2011.764,"d":35159.6575},{"t":2011.768,"d":35159.6540},{"t":2011.772,"d":35159.6598},{"t":2011.776,"d":35159.6500},{"t":2011.780,"d":35159.6440},{"t":2011.784,"d":35159.6560},{"t":2011.788,"d":35159.6520},{"t":2011.792,"d":35159.6430},{"t":2011.796,"d":35159.6590},{"t":2011.800,"d":35159.6480},{"t":2011.804,"d":35159.6267},{"t":2011.806,"d":35159.6048},{"t":2011.810,"d":35159.6545},{"t":2011.814,"d":35159.6610},{"t":2011.818,"d":35159.6455},{"t":2011.822,"d":35159.6500},{"t":2011.826,"d":35159.6420},{"t":2011.830,"d":35159.7024},{"t":2011.832,"d":35159.6939},{"t":2011.834,"d":35159.6568},{"t":2011.838,"d":35159.6727},{"t":2011.840,"d":35159.6480},{"t":2011.844,"d":35159.6297},{"t":2011.848,"d":35159.6061},{"t":2011.852,"d":35159.6530},{"t":2011.856,"d":35159.6400},{"t":2011.860,"d":35159.6248},{"t":2011.864,"d":35159.6460},{"t":2011.868,"d":35159.6420}
]
},
"vconcat":[
{"width":1115,"height":177,
"layer":[
{"data":{"name":"a"},"mark":{"type":"point","shape":"circle","filled":false,"stroke":"#666666","strokeWidth":1.4,"size":30,"opacity":1},
"encoding":{
"x":{"field":"t","type":"quantitative","scale":{"domain":[2008.515,2014.03],"nice":false,"zero":false},
"axis":{"values":[2009,2010,2011,2012,2013,2014],"tickCount":20,"format":"d","title":["Year","(a)"],"tickSize":6,"labelPadding":4,"titlePadding":-4,"titleLineHeight":27,"labelOverlap":false}},
"y":{"field":"d","type":"quantitative","scale":{"domain":[40315.2467,40315.5776],"nice":false,"zero":false},
"axis":{"values":[40315.3,40315.4,40315.5],"tickCount":20,"title":"Distance (m)","labelAngle":-90,"labelAlign":"center","labelBaseline":"alphabetic","labelFontSize":21,"tickSize":6,"labelPadding":14,"titlePadding":14,"labelOverlap":false,
"labelExpr":"abs(datum.value-40315.3)<0.001 ? '' : format(datum.value,'.2f')",
"labelOffset":{"condition":{"test":"abs(datum.value-40315.5)<0.001","value":-25},"value":14}}}}},
{"data":{"values":[{"t":2008.515,"d":40315.4336},{"t":2014.03,"d":40315.3832}]},"mark":{"type":"line","color":"#000","strokeWidth":2,"clip":true},
"encoding":{"x":{"field":"t","type":"quantitative"},"y":{"field":"d","type":"quantitative"}}},
{"data":{"values":[{"t":2008.584,"d":40315.286,"label":"ARLN-P445"}]},"mark":{"type":"text","align":"left","baseline":"alphabetic","fontSize":21,"font":"Liberation Serif","color":"#000"},
"encoding":{"x":{"field":"t","type":"quantitative"},"y":{"field":"d","type":"quantitative"},"text":{"field":"label"}}}
]},
{"width":1121,"height":177,
"layer":[
{"data":{"name":"b"},"mark":{"type":"point","shape":"circle","filled":false,"stroke":"#666666","strokeWidth":1.4,"size":30,"opacity":1},
"encoding":{
"x":{"field":"t","type":"quantitative","scale":{"domain":[2007.847,2012.026],"nice":false,"zero":false},
"axis":{"values":[2008,2009,2010,2011,2012],"tickCount":20,"format":"d","title":["Year","(b)"],"tickSize":6,"labelPadding":4,"titlePadding":0,"titleLineHeight":20,"labelOverlap":false}},
"y":{"field":"d","type":"quantitative","scale":{"domain":[35159.60,35159.7073],"nice":false,"zero":false},
"axis":{"values":[35159.60,35159.62,35159.64,35159.66,35159.68,35159.70],"tickCount":20,"title":"Distance (m)","labelAngle":-90,"labelAlign":"center","labelBaseline":"alphabetic","labelFontSize":21,"tickSize":6,"labelPadding":8,"titlePadding":12,"labelOverlap":false,
"labelExpr":"(abs(datum.value-35159.68)<0.001 || abs(datum.value-35159.62)<0.001) ? format(datum.value,'.2f') : ''",
"labelOffset":{"condition":{"test":"abs(datum.value-35159.68)<0.001","value":-7},"value":-4}}}}},
{"data":{"values":[{"t":2007.847,"d":35159.6867},{"t":2012.026,"d":35159.6655}]},"mark":{"type":"line","color":"#000","strokeWidth":2,"clip":true},
"encoding":{"x":{"field":"t","type":"quantitative"},"y":{"field":"d","type":"quantitative"}}},
{"data":{"values":[{"t":2007.911,"d":35159.6164,"label":"P402-P403"}]},"mark":{"type":"text","align":"left","baseline":"alphabetic","fontSize":21,"font":"Liberation Serif","color":"#000"},
"encoding":{"x":{"field":"t","type":"quantitative"},"y":{"field":"d","type":"quantitative"},"text":{"field":"label"}}}
]}
]
}
